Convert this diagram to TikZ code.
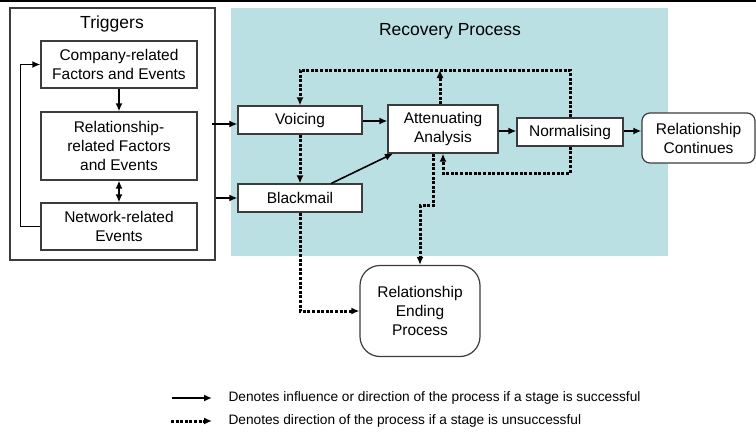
\documentclass[tikz,border=0pt]{standalone}
\usepackage{fontspec}
\setmainfont{Liberation Sans}
\usetikzlibrary{calc,arrows.meta}
\definecolor{recovfill}{RGB}{186,224,227}
\definecolor{boxline}{RGB}{60,60,60}
\tikzset{
	box/.style={draw=boxline,line width=1.2pt,fill=white,align=center,inner sep=0pt,
		font=\fontsize{15.5}{19}\selectfont},
	title/.style={font=\fontsize{17.5}{20}\selectfont},
	legend/.style={anchor=west,font=\fontsize{13.7}{15}\selectfont},
	solidarrow/.style={-{Latex[length=8pt,width=7pt]},line width=1.6pt},
	dotarrow/.style={-{Latex[length=8pt,width=7pt]},line width=3pt,dash pattern=on 3pt off 1.6pt},
}

\begin{document}
\begin{tikzpicture}[x=1pt,y=-1pt]
	\useasboundingbox (0,0) rectangle (756,434);
	\draw[line width=2pt] (0,0.5)--(756,0.5);
	
	%areas
	\node[draw=boxline,line width=1.2pt,minimum width=205pt,minimum height=252pt,inner sep=0pt] (trig) at (112.5,134) {};
	\node[fill=recovfill,minimum width=437pt,minimum height=248pt,inner sep=0pt] (recov) at (449.5,132) {};
	\node[title] (trigtitle) at (112,24) {Triggers};
	\node[title] (recovtitle) at (450,31) {Recovery Process};
	
	%boxes
	\node[box,minimum width=156pt,minimum height=47pt] (company) at (119,64.5) {Company-related\\Factors and Events};
	\node[box,minimum width=156pt,minimum height=68pt] (relfac) at (119,146) {Relationship-\\related Factors\\and Events};
	\node[box,minimum width=156pt,minimum height=47pt] (network) at (119,226.5) {Network-related\\Events};
	%
	\node[box,minimum width=124pt,minimum height=28pt] (voicing) at (300,120) {Voicing};
	\node[box,minimum width=124pt,minimum height=28pt] (blackmail) at (300,198) {Blackmail};
	\node[box,minimum width=110pt,minimum height=48pt] (attan) at (443,129) {Attenuating\\Analysis};
	\node[box,minimum width=106pt,minimum height=28pt] (normal) at (570,132) {Normalising};
	\node[box,rounded corners=8pt,minimum width=113pt,minimum height=50pt] (cont) at (698.5,138) {Relationship\\Continues};
	\node[box,rounded corners=20pt,minimum width=120pt,minimum height=91pt] (ending) at (420,311) {Relationship\\Ending\\Process};
	
	%helper lines
	\coordinate (topline) at (0,70);
	\coordinate (botline) at (0,173);
	
	%solid arrows
	\draw[solidarrow] (company.south)--(relfac.north);
	\draw[solidarrow,{Latex[length=8pt,width=7pt]}-{Latex[length=8pt,width=7pt]}] (relfac.south)--(network.north);
	\draw[solidarrow] (network.west)--++(-20,0)|-(company.west);
	\draw[solidarrow] ($(trig.east |- voicing.west)+(-4,4)$)--($(voicing.west)+(0,4)$);
	\draw[solidarrow] (trig.east |- blackmail.west)--(blackmail.west);
	\draw[solidarrow] ($(voicing.east)+(0,1)$)--($(voicing.east -| attan.west)+(0,1)$);
	\draw[solidarrow] ($(normal.west -| attan.east)+(0,-1)$)--($(normal.west)+(0,-1)$);
	\draw[solidarrow] ($(normal.east)+(0,-1)$)--($(normal.east -| cont.west)+(0,-1)$);
	\draw[solidarrow] ($(blackmail.north)!0.5!(blackmail.north east)$)--($(attan.south west)!0.05!(attan.south east)$);
	
	%dotted arrows
	\draw[dotarrow] (voicing.south)--(blackmail.north);
	\draw[dotarrow] (normal.north)--(normal.north |- topline)-|(voicing.north);
	\draw[dotarrow] ($(attan.north)+(-3,0)$)--($(attan.north |- topline)+(-3,0)$);
	\draw[dotarrow] (normal.south)--(normal.south |- botline)-|(attan.south);
	\draw[dotarrow] ($(attan.south)+(-10,0)$)|-($(ending.north)+(0,-59)$)--(ending.north);
	\draw[dotarrow] (blackmail.south)|-(ending.west);
	
	%legend
	\coordinate (solida) at (172,398);
	\coordinate (solidb) at (212,398);
	\coordinate (dota) at (171,421);
	\coordinate (dotb) at (212,421);
	\draw[solidarrow] (solida)--(solidb);
	\draw[dotarrow] (dota)--(dotb);
	\node[legend] (solidtext) at (225,398) {Denotes influence or direction of the process if a stage is successful};
	\node[legend] (dottext) at (225,421) {Denotes direction of the process if a stage is unsuccessful};
\end{tikzpicture}
\end{document}
